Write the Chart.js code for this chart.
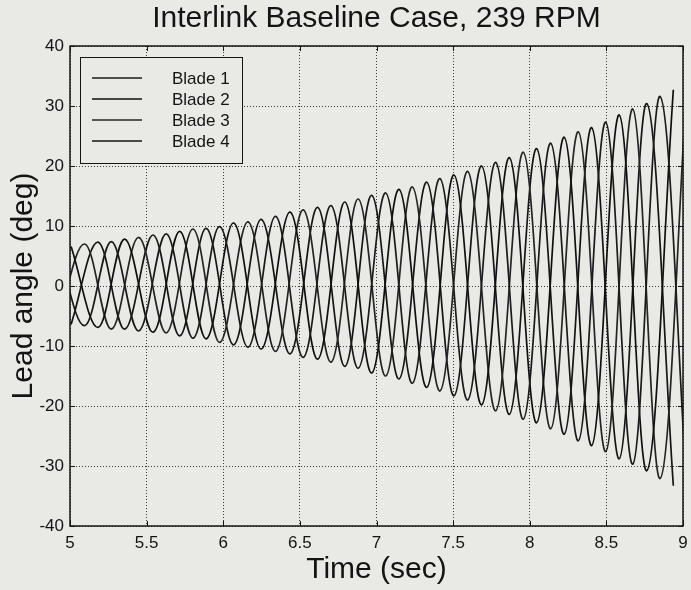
<!DOCTYPE html>
<html>
<head>
<meta charset="utf-8">
<script src="https://cdn.jsdelivr.net/npm/chart.js@4.4.1/dist/chart.umd.min.js"></script>
<style>
  html, body { margin: 0; padding: 0; background: #e9eae5; }
  canvas { display: block; }
</style>
</head>
<body>
<canvas id="leadChart" width="691" height="590"></canvas>
<script>
// ============================================================
//  Lead angle of the four blades, interlink baseline, 239 RPM
// ============================================================

// Times (s) of each quarter cycle: one blade at its max, the opposite at its min
var peakTimes = [4.918, 5.007, 5.096, 5.183, 5.270, 5.357, 5.448, 5.542, 5.628, 5.716,
                 5.803, 5.889, 5.977, 6.068, 6.162, 6.248, 6.342, 6.436, 6.522, 6.616,
                 6.703, 6.794, 6.881, 6.969, 7.060, 7.147, 7.234, 7.328, 7.414, 7.506,
                 7.595, 7.686, 7.778, 7.867, 7.958, 8.045, 8.137, 8.225, 8.317, 8.404,
                 8.496, 8.584, 8.672, 8.763, 8.850, 8.937, 9.026];

// Lead angle (deg) of the blade at its maximum at each of those times
var upperPeaks = [6.4, 6.6, 7.0, 7.3, 7.4, 7.8, 8.1, 8.5, 8.7, 9.1,
                  9.5, 9.6, 9.9, 10.5, 10.7, 11.1, 11.6, 12.3, 12.7, 13.1,
                  13.4, 14.0, 14.5, 15.1, 15.5, 16.1, 16.5, 17.3, 17.9, 18.5,
                  19.1, 20.0, 20.6, 21.4, 22.3, 22.9, 23.8, 24.8, 25.7, 26.4,
                  27.3, 28.5, 29.5, 30.4, 31.6, 32.7, 33.8];

// ... and of the blade at its minimum
var lowerPeaks = [-6.2, -6.4, -6.6, -6.9, -7.2, -7.2, -7.5, -7.7, -7.8, -8.3,
                  -8.7, -8.8, -9.4, -9.8, -10.2, -10.5, -10.9, -11.3, -11.9, -12.2,
                  -12.7, -13.4, -13.7, -14.5, -15.0, -15.5, -16.2, -16.9, -17.5, -18.3,
                  -19.0, -19.8, -20.8, -21.4, -22.2, -22.8, -23.8, -24.7, -25.8, -26.6,
                  -27.6, -28.8, -29.7, -30.8, -32.1, -33.3, -34.4];

var bladeLabels = ['Blade 1', 'Blade 2', 'Blade 3', 'Blade 4'];
var bladeColors = ['#1a1a1a', '#0f0f0f', '#242424', '#151515'];

var xTicks = [5, 5.5, 6, 6.5, 7, 7.5, 8, 8.5, 9];
var yTicks = [-40, -30, -20, -10, 0, 10, 20, 30, 40];

var FONT = '"Liberation Sans", Arial, Helvetica, sans-serif';
var INK  = '#141414';

// Blades sit 90 deg apart: blade k peaks at quarter k, bottoms out two quarters later
function bladeSeries(k) {
  var pts = [];
  for (var i = 0; i < peakTimes.length; i++) {
    var q = ((i - k) % 4 + 4) % 4;
    if (q === 0) pts.push({ x: peakTimes[i], y: upperPeaks[i] });
    if (q === 2) pts.push({ x: peakTimes[i], y: lowerPeaks[i] });
  }
  return pts;
}

// Box round the plot with short inward ticks on all four sides
var frameBox = {
  id: 'frameBox',
  afterDatasetsDraw: function (chart) {
    var ctx = chart.ctx, a = chart.chartArea;
    var sx = chart.scales.x, sy = chart.scales.y;
    ctx.save();
    ctx.strokeStyle = INK;
    ctx.lineWidth = 1;
    ctx.beginPath();
    xTicks.forEach(function (v) {
      var px = Math.round(sx.getPixelForValue(v)) + 0.5;
      ctx.moveTo(px, a.top);    ctx.lineTo(px, a.top + 5);
      ctx.moveTo(px, a.bottom); ctx.lineTo(px, a.bottom - 5);
    });
    yTicks.forEach(function (v) {
      var py = Math.round(sy.getPixelForValue(v)) + 0.5;
      ctx.moveTo(a.left, py);  ctx.lineTo(a.left + 5, py);
      ctx.moveTo(a.right, py); ctx.lineTo(a.right - 5, py);
    });
    ctx.stroke();
    ctx.lineWidth = 1.5;
    ctx.strokeRect(a.left, a.top, a.right - a.left, a.bottom - a.top);
    ctx.restore();
  }
};

// Legend box in the upper left corner: sample line, then label
var bladeLegend = {
  id: 'bladeLegend',
  afterDraw: function (chart) {
    var ctx = chart.ctx;
    var bx = 80.5, by = 57.5, bw = 162, bh = 106;
    ctx.save();
    ctx.fillStyle = '#e9eae5';
    ctx.fillRect(bx, by, bw, bh);
    ctx.strokeStyle = INK;
    ctx.lineWidth = 1;
    ctx.strokeRect(bx, by, bw, bh);
    ctx.font = '17px ' + FONT;
    ctx.textBaseline = 'middle';
    chart.data.datasets.forEach(function (ds, k) {
      var y = 78 + k * 21;
      ctx.strokeStyle = ds.borderColor;
      ctx.lineWidth = 1.6;
      ctx.beginPath();
      ctx.moveTo(92, y); ctx.lineTo(142, y);
      ctx.stroke();
      ctx.fillStyle = INK;
      ctx.fillText(ds.label, 172, y + 1);
    });
    ctx.restore();
  }
};

function plainLabel(v) { return String(v); }

new Chart(document.getElementById('leadChart'), {
  type: 'line',
  data: {
    datasets: bladeLabels.map(function (lbl, k) {
      return {
        label: lbl,
        data: bladeSeries(k),
        borderColor: bladeColors[k],
        borderWidth: 1.7,
        pointRadius: 0,
        tension: 0.36,
        fill: false
      };
    })
  },
  options: {
    responsive: false,
    animation: false,
    layout: { padding: { left: 0, right: 8, top: 0, bottom: 0 } },
    plugins: {
      legend:  { display: false },
      tooltip: { enabled: false },
      title: {
        display: true,
        fullSize: false,
        text: 'Interlink Baseline Case, 239 RPM',
        color: INK,
        font: { family: FONT, size: 30, weight: 'normal' },
        padding: { top: 1, bottom: 9 }
      }
    },
    scales: {
      x: {
        type: 'linear',
        min: 5,
        max: 9,
        afterBuildTicks: function (s) { s.ticks = xTicks.map(function (v) { return { value: v }; }); },
        afterFit: function (s) { s.height = 64; s.paddingLeft = 0; s.paddingRight = 0; },
        grid:   { color: '#3a3a3a', lineWidth: 1, drawTicks: false },
        border: { display: false, dash: [1, 2] },
        ticks:  { color: INK, font: { family: FONT, size: 17 }, padding: 7, maxRotation: 0, callback: plainLabel },
        title: {
          display: true,
          text: 'Time (sec)',
          color: INK,
          font: { family: FONT, size: 30 },
          padding: { top: 0, bottom: 2 }
        }
      },
      y: {
        min: -40,
        max: 40,
        afterBuildTicks: function (s) { s.ticks = yTicks.map(function (v) { return { value: v }; }); },
        afterFit: function (s) { s.width = 70; s.paddingTop = 0; s.paddingBottom = 0; },
        grid:   { color: '#3a3a3a', lineWidth: 1, drawTicks: false },
        border: { display: false, dash: [1, 2] },
        ticks:  { color: INK, font: { family: FONT, size: 17 }, padding: 6, callback: plainLabel },
        title: {
          display: true,
          text: 'Lead angle (deg)',
          color: INK,
          font: { family: FONT, size: 30 },
          padding: { top: 6, bottom: 0 }
        }
      }
    }
  },
  plugins: [frameBox, bladeLegend]
});
</script>
</body>
</html>
